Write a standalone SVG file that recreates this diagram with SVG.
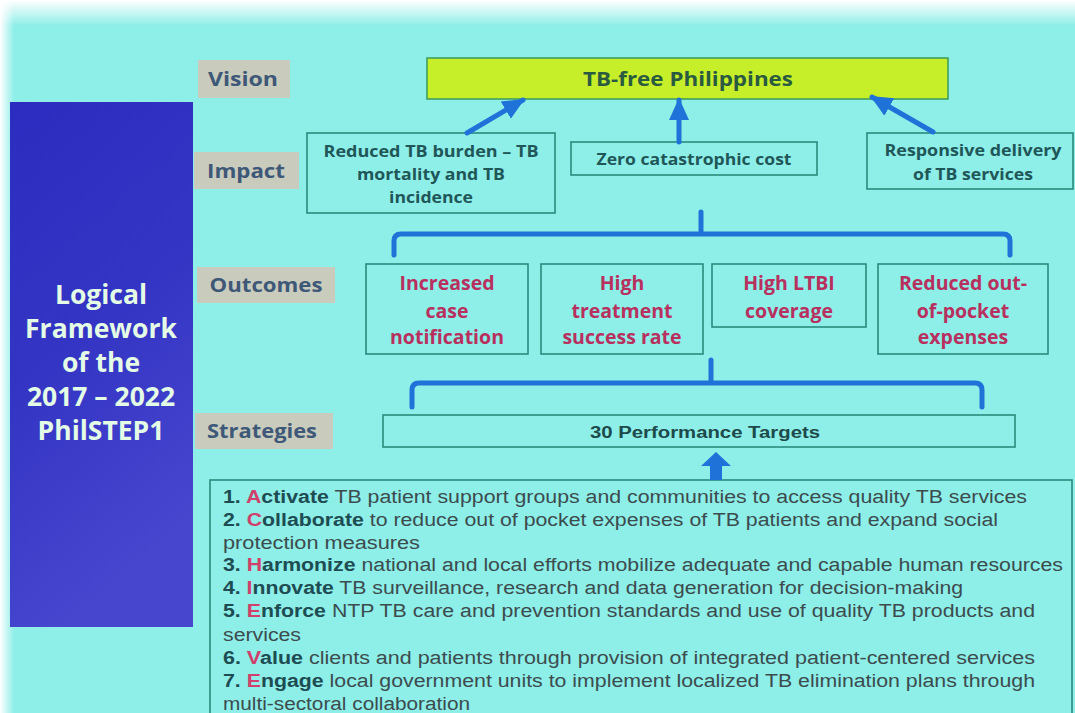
<svg xmlns="http://www.w3.org/2000/svg" width="1075" height="713" viewBox="0 0 1075 713">
<defs>
<linearGradient id="topfade" x1="0" y1="0" x2="0" y2="1">
<stop offset="0" stop-color="#ffffff"/>
<stop offset="1" stop-color="#ffffff" stop-opacity="0"/>
</linearGradient>
<linearGradient id="leftfade" x1="0" y1="0" x2="1" y2="0">
<stop offset="0" stop-color="#ffffff"/>
<stop offset="1" stop-color="#ffffff" stop-opacity="0"/>
</linearGradient>
<linearGradient id="panel" x1="0" y1="0" x2="0.3" y2="1">
<stop offset="0" stop-color="#2c2cc0"/>
<stop offset="0.5" stop-color="#3434c4"/>
<stop offset="1" stop-color="#4646cf"/>
</linearGradient>
<marker id="ah" markerUnits="userSpaceOnUse" markerWidth="24" markerHeight="24" viewBox="0 0 24 24" refX="20" refY="12" orient="auto">
<path d="M0,2 L22,12 L0,22 Z" fill="#1f73d8"/>
</marker>
<style>
.lbl{fill:#c9cbbd}
.lbltx{font-family:"Open Sans","Noto Sans",sans-serif;font-weight:700;font-size:19px;fill:#3e5878;text-anchor:middle}
.box{fill:none;stroke:#2a8a7c;stroke-width:1.6}
.imp{font-family:"Open Sans","Noto Sans",sans-serif;font-weight:700;font-size:16.5px;fill:#1f5758;text-anchor:middle}
.out{font-family:"Open Sans","Noto Sans",sans-serif;font-weight:700;font-size:19.5px;fill:#b8305e;text-anchor:middle}
.con{fill:none;stroke:#1f73d8;stroke-width:5;stroke-linecap:round;stroke-linejoin:round}
.title{font-family:"Open Sans","Noto Sans",sans-serif;font-weight:700;font-size:26.5px;fill:#e4fbe6;text-anchor:middle}
.li{font-family:"Liberation Sans",Arial,sans-serif;font-size:18px;fill:#3c4c4e}
.b{font-weight:700;fill:#1d4c52}
.r{fill:#d0406a}
</style>
</defs>
<rect width="1075" height="713" fill="#8eeee8"/>
<rect width="1075" height="26" fill="url(#topfade)"/>
<rect width="14" height="713" fill="url(#leftfade)"/>

<g id="title-panel">
<rect x="10" y="102" width="183" height="525" fill="url(#panel)"/>
<text class="title" x="101" y="304">Logical</text>
<text class="title" x="101" y="338">Framework</text>
<text class="title" x="101" y="372">of the</text>
<text class="title" x="101" y="406">2017 – 2022</text>
<text class="title" x="101" y="440">PhilSTEP1</text>
</g>

<g id="label-vision">
<rect class="lbl" x="198" y="60" width="92" height="38"/>
<text class="lbltx" x="243" y="86" textLength="70" lengthAdjust="spacingAndGlyphs">Vision</text>
</g>
<g id="label-impact">
<rect class="lbl" x="194" y="152" width="105" height="37"/>
<text class="lbltx" x="246" y="178" textLength="78" lengthAdjust="spacingAndGlyphs">Impact</text>
</g>
<g id="label-outcomes">
<rect class="lbl" x="197" y="267" width="138" height="36"/>
<text class="lbltx" x="266" y="292" textLength="113" lengthAdjust="spacingAndGlyphs">Outcomes</text>
</g>
<g id="label-strategies">
<rect class="lbl" x="195" y="413" width="138" height="36"/>
<text class="lbltx" x="262" y="438" textLength="110" lengthAdjust="spacingAndGlyphs">Strategies</text>
</g>

<g id="vision">
<rect x="427" y="58" width="521" height="41" fill="#c6ef2a" stroke="#3a9a5a" stroke-width="1.5"/>
<text x="688" y="86" font-family="Open Sans, Noto Sans, sans-serif" font-weight="700" font-size="19" fill="#2a5a40" text-anchor="middle" textLength="210" lengthAdjust="spacingAndGlyphs">TB-free Philippines</text>
</g>

<g id="impact-1">
<rect class="box" x="307" y="133" width="248" height="80"/>
<text class="imp" x="431" y="157" textLength="215" lengthAdjust="spacingAndGlyphs">Reduced TB burden – TB</text>
<text class="imp" x="431" y="180" textLength="148" lengthAdjust="spacingAndGlyphs">mortality and TB</text>
<text class="imp" x="431" y="203" textLength="84" lengthAdjust="spacingAndGlyphs">incidence</text>
</g>
<g id="impact-2">
<rect class="box" x="571" y="142" width="246" height="33"/>
<text class="imp" x="694" y="165" textLength="195" lengthAdjust="spacingAndGlyphs">Zero catastrophic cost</text>
</g>
<g id="impact-3">
<rect class="box" x="867" y="133" width="206" height="56"/>
<text class="imp" x="973" y="156" textLength="177" lengthAdjust="spacingAndGlyphs">Responsive delivery</text>
<text class="imp" x="973" y="180" textLength="120" lengthAdjust="spacingAndGlyphs">of TB services</text>
</g>

<g id="outcome-1">
<rect class="box" x="366" y="264" width="162" height="90"/>
<text class="out" x="447" y="290">Increased</text>
<text class="out" x="447" y="318">case</text>
<text class="out" x="447" y="344">notification</text>
</g>
<g id="outcome-2">
<rect class="box" x="541" y="264" width="162" height="90"/>
<text class="out" x="622" y="290">High</text>
<text class="out" x="622" y="318">treatment</text>
<text class="out" x="622" y="344">success rate</text>
</g>
<g id="outcome-3">
<rect class="box" x="712" y="264" width="154" height="63"/>
<text class="out" x="789" y="290">High LTBI</text>
<text class="out" x="789" y="318">coverage</text>
</g>
<g id="outcome-4">
<rect class="box" x="878" y="264" width="170" height="90"/>
<text class="out" x="963" y="290">Reduced out-</text>
<text class="out" x="963" y="318">of-pocket</text>
<text class="out" x="963" y="344">expenses</text>
</g>

<g id="targets">
<rect class="box" x="383" y="415" width="632" height="32"/>
<text x="705" y="438" font-family="Liberation Sans, Arial, sans-serif" font-weight="700" font-size="16" fill="#1d4a4a" text-anchor="middle" textLength="230" lengthAdjust="spacingAndGlyphs">30 Performance Targets</text>
</g>

<g id="strategies">
<rect class="box" x="210" y="480" width="862" height="240"/>
<text class="li" x="223" y="503" textLength="804" lengthAdjust="spacingAndGlyphs"><tspan class="b">1. </tspan><tspan class="b r">A</tspan><tspan class="b">ctivate</tspan> TB patient support groups and communities to access quality TB services</text>
<text class="li" x="223" y="526" textLength="775" lengthAdjust="spacingAndGlyphs"><tspan class="b">2. </tspan><tspan class="b r">C</tspan><tspan class="b">ollaborate</tspan> to reduce out of pocket expenses of TB patients and expand social</text>
<text class="li" x="223" y="549" textLength="197" lengthAdjust="spacingAndGlyphs">protection measures</text>
<text class="li" x="223" y="571" textLength="840" lengthAdjust="spacingAndGlyphs"><tspan class="b">3. </tspan><tspan class="b r">H</tspan><tspan class="b">armonize</tspan> national and local efforts mobilize adequate and capable human resources</text>
<text class="li" x="223" y="594" textLength="740" lengthAdjust="spacingAndGlyphs"><tspan class="b">4. </tspan><tspan class="b r">I</tspan><tspan class="b">nnovate</tspan> TB surveillance, research and data generation for decision-making</text>
<text class="li" x="223" y="617" textLength="812" lengthAdjust="spacingAndGlyphs"><tspan class="b">5. </tspan><tspan class="b r">E</tspan><tspan class="b">nforce</tspan> NTP TB care and prevention standards and use of quality TB products and</text>
<text class="li" x="223" y="641" textLength="78" lengthAdjust="spacingAndGlyphs">services</text>
<text class="li" x="223" y="664" textLength="812" lengthAdjust="spacingAndGlyphs"><tspan class="b">6. </tspan><tspan class="b r">V</tspan><tspan class="b">alue</tspan> clients and patients through provision of integrated patient-centered  services</text>
<text class="li" x="223" y="687" textLength="812" lengthAdjust="spacingAndGlyphs"><tspan class="b">7. </tspan><tspan class="b r">E</tspan><tspan class="b">ngage</tspan> local government units to implement localized TB elimination plans through</text>
<text class="li" x="223" y="710" textLength="247" lengthAdjust="spacingAndGlyphs">multi-sectoral collaboration</text>
</g>

<g id="connectors">
<line class="con" x1="467" y1="133" x2="523" y2="100" marker-end="url(#ah)"/>
<line class="con" x1="679" y1="142" x2="679" y2="100" marker-end="url(#ah)"/>
<line class="con" x1="933" y1="132" x2="872" y2="97" marker-end="url(#ah)"/>
<path class="con" d="M394,255 V241 Q394,234 401,234 H1003 Q1010,234 1010,241 V255 M701,234 V212"/>
<path class="con" d="M412,407 V390 Q412,383 419,383 H975 Q982,383 982,390 V407 M711,383 V360"/>
<path d="M716,452 L731,466 L722,466 L722,480 L710,480 L710,466 L701,466 Z" fill="#1f73d8"/>
</g>
</svg>
